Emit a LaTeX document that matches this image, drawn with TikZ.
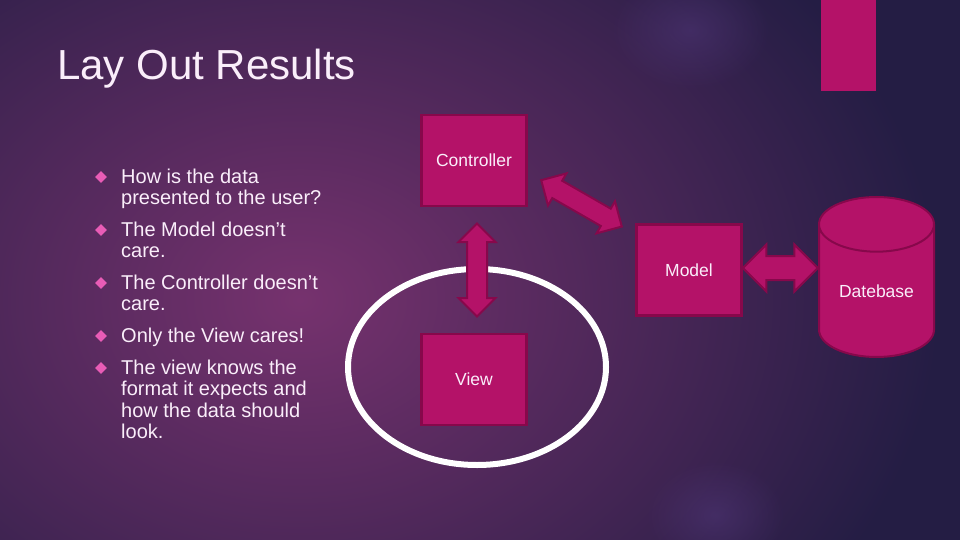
\documentclass[tikz,border=0pt]{standalone}
\usepackage{fontspec}
\setmainfont{Liberation Sans}
\usetikzlibrary{positioning,calc,shapes.geometric,shapes.arrows,fadings}
\definecolor{NightBg}{RGB}{36,29,68}
\definecolor{Glow}{RGB}{118,50,110}
\definecolor{Haze}{RGB}{84,58,128}
\definecolor{Berry}{RGB}{180,18,104}
\definecolor{BerryEdge}{RGB}{135,8,75}
\definecolor{Petal}{RGB}{232,92,182}
\definecolor{Snow}{RGB}{250,238,250}
\tikzfading[name=hazefade,inner color=transparent!0,outer color=transparent!100]
\tikzset{
  slab/.style={draw=BerryEdge,line width=2.5pt,fill=Berry,text=Snow,font=\fontsize{17.5}{20}\selectfont,minimum width=105pt,minimum height=91pt,inner sep=0pt},
  drum/.style={cylinder,shape border rotate=90,aspect=.73,draw=BerryEdge,line width=2pt,fill=Berry,text=Snow,font=\fontsize{17.5}{20}\selectfont,minimum width=115pt,minimum height=160pt,inner sep=0pt},
  twoway/.style={double arrow,draw=BerryEdge,line width=2pt,fill=Berry,inner sep=0pt,minimum width=0pt,double arrow head extend=8.5pt,inner ysep=9pt},
  point/.style={anchor=north west,inner sep=0pt,align=left,text=Snow,font=\fontsize{20}{21.5}\selectfont},
  gem/.style={diamond,fill=Petal,inner sep=0pt,minimum width=12pt,minimum height=12pt},
  ring/.style={draw=white,line width=6pt}
}
\begin{document}
\begin{tikzpicture}[x=1pt,y=-1pt]
  % backdrop
  \useasboundingbox (0,0) rectangle (960,540);
  \fill[NightBg] (0,0) rectangle (960,540);
  \begin{scope}
    \clip (0,0) rectangle (960,540);
    \shade[inner color=Glow,outer color=NightBg] (300,300) ellipse [x radius=640,y radius=500];
    \fill[Haze,fill opacity=.45,path fading=hazefade] (690,30) ellipse [x radius=80,y radius=60];
    \fill[Haze,fill opacity=.45,path fading=hazefade] (715,515) ellipse [x radius=70,y radius=55];
  \end{scope}
  \fill[Berry] (821,0) rectangle (876,91);

  % title
  \node[anchor=base west,inner sep=0pt,text=Snow,font=\fontsize{42}{48}\selectfont] (title) at (57,80) {Lay Out Results};

  % bullets
  \foreach \y/\n in {177/1,230/2,283/3,336/4,368/5}
    \node[gem] (g\n) at (101,\y) {};
  \node[point] (b1) at (121,168.4) {How is the data\\presented to the user?};
  \node[point] (b2) at (121,221.4) {The Model doesn’t\\care.};
  \node[point] (b3) at (121,274.4) {The Controller doesn’t\\care.};
  \node[point] (b4) at (121,327.4) {Only the View cares!};
  \node[point] (b5) at (121,359.4) {The view knows the\\format it expects and\\how the data should\\look.};

  % mvc blocks
  \draw[ring] (477,367) ellipse [x radius=129,y radius=98];
  \node[slab] (ctrl) at (474,160.5) {Controller};
  \node[slab] (model) at (689,270) {Model};
  \node[slab] (view) at (474,379.5) {View};
  \node[drum,anchor=north] (db) at (876.5,196) {\raisebox{-12pt}{Datebase}};

  \path ([xshift=3pt]ctrl.south) -- ([xshift=3pt]view.north) node[midway,sloped,twoway,minimum height=93pt] (cv) {};
  \path ([yshift=-12pt]ctrl.east) -- ([yshift=-11pt]model.north west) node[midway,sloped,twoway,minimum height=93pt] (cm) {};
  \path ([yshift=2pt]model.east) -- ([yshift=2pt]model.east -| db.west) node[midway,sloped,twoway,minimum height=75pt,inner ysep=11pt,double arrow head extend=11.5pt] (md) {};
\end{tikzpicture}
\end{document}
